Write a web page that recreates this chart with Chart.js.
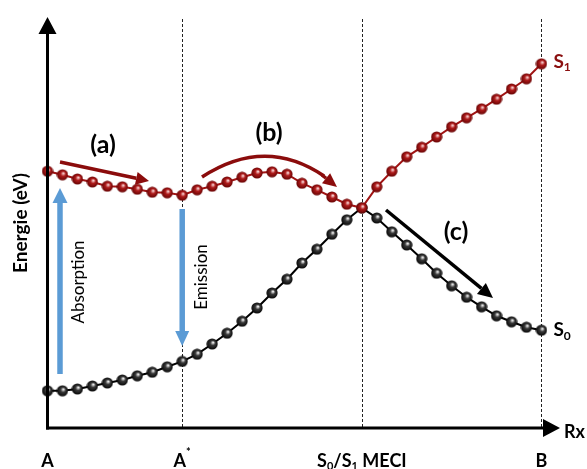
<!DOCTYPE html>
<html>
<head>
<meta charset="utf-8">
<script src="https://cdn.jsdelivr.net/npm/chart.js@4.4.1/dist/chart.umd.min.js"></script>
<style>
  body { margin: 0; background: #fff; }
  canvas { display: block; }
</style>
</head>
<body>
<canvas id="pes" width="587" height="469"></canvas>
<script>
// reaction coordinate steps, A -> B
var steps = [];
for (var i = 0; i <= 33; i++) steps.push(i);

// excited state S1 (eV, arbitrary offset)
var s1Energy = [4.28, 4.22, 4.15, 4.10, 4.03, 4.02, 3.98, 3.93, 3.92, 3.88,
    3.97, 4.03, 4.10, 4.18, 4.25, 4.27, 4.23, 4.08, 3.97, 3.85,
    3.73, 3.67, 4.02, 4.28, 4.52, 4.68, 4.85, 5.02, 5.17, 5.32,
    5.48, 5.65, 5.82, 6.07];

// ground state S0
var s0Energy = [0.62, 0.62, 0.65, 0.70, 0.75, 0.80, 0.87, 0.93, 1.02, 1.11,
    1.23, 1.40, 1.58, 1.78, 2.00, 2.25, 2.48, 2.75, 2.98, 3.23,
    3.47, 3.67, 3.50, 3.27, 3.05, 2.82, 2.58, 2.37, 2.18, 2.02,
    1.87, 1.77, 1.68, 1.63];

// points of interest on the coordinate
var markPos = [0, 9, 21, 33];
var markLabels = ['A', 'A*', 'S0/S1 MECI', 'B'];

var FONT = 'Lato, "Open Sans", sans-serif';

function ball(light, mid, dark) {
    var c = document.createElement('canvas');
    c.width = 12; c.height = 12;
    var g = c.getContext('2d');
    var grad = g.createRadialGradient(7, 4.5, 0.5, 6, 6, 6);
    grad.addColorStop(0, light);
    grad.addColorStop(0.35, mid);
    grad.addColorStop(1, dark);
    g.fillStyle = grad;
    g.beginPath();
    g.arc(6, 6, 5.6, 0, Math.PI * 2);
    g.fill();
    return c;
}
var redBall = ball('#f4c8c8', '#b01c1c', '#5e0000');
var blackBall = ball('#e6e6e6', '#3a3a3a', '#000000');

function pts(arr) {
    return arr.map(function (v, i) { return { x: steps[i], y: v }; });
}

function arrow(ctx, x1, y1, x2, y2, color, lw, hl, hw) {
    var a = Math.atan2(y2 - y1, x2 - x1);
    var bx = x2 - hl * Math.cos(a), by = y2 - hl * Math.sin(a);
    ctx.save();
    ctx.strokeStyle = color; ctx.fillStyle = color; ctx.lineWidth = lw;
    ctx.beginPath(); ctx.moveTo(x1, y1); ctx.lineTo(bx, by); ctx.stroke();
    ctx.beginPath();
    ctx.moveTo(x2, y2);
    ctx.lineTo(bx + hw / 2 * Math.sin(a), by - hw / 2 * Math.cos(a));
    ctx.lineTo(bx - hw / 2 * Math.sin(a), by + hw / 2 * Math.cos(a));
    ctx.closePath(); ctx.fill();
    ctx.restore();
}

// draws text with sub / sup pieces: [[text, 'n'|'sub'|'sup'], ...]
function richText(ctx, parts, x, y, size, align) {
    var small = Math.round(size * 0.62);
    var w = 0;
    parts.forEach(function (p) {
        ctx.font = 'bold ' + (p[1] === 'n' ? size : small) + 'px ' + FONT;
        w += ctx.measureText(p[0]).width;
    });
    var cx = align === 'center' ? x - w / 2 : x;
    parts.forEach(function (p) {
        ctx.font = 'bold ' + (p[1] === 'n' ? size : small) + 'px ' + FONT;
        var dy = p[1] === 'sub' ? size * 0.3 : (p[1] === 'sup' ? -size * 0.5 : 0);
        ctx.fillText(p[0], cx, y + dy);
        cx += ctx.measureText(p[0]).width + (p[1] === 'sup' ? 0 : 0);
    });
}

var decor = {
    id: 'decor',
    beforeDatasetsDraw: function (chart) {
        var ctx = chart.ctx, xs = chart.scales.x, ys = chart.scales.y;
        var top = chart.chartArea.top + 2, bot = ys.getPixelForValue(0);
        ctx.save();
        ctx.strokeStyle = '#222'; ctx.lineWidth = 1; ctx.setLineDash([3, 2]);
        markPos.slice(1).forEach(function (p) {
            var x = Math.round(xs.getPixelForValue(p)) + 0.5;
            ctx.beginPath(); ctx.moveTo(x, top); ctx.lineTo(x, bot); ctx.stroke();
        });
        ctx.restore();
    },
    afterDatasetsDraw: function (chart) {
        var ctx = chart.ctx, xs = chart.scales.x, ys = chart.scales.y;
        var ca = chart.chartArea;
        var x0 = xs.getPixelForValue(0), y0 = ys.getPixelForValue(0);
        var X = function (v) { return xs.getPixelForValue(v); };
        var Y = function (v) { return ys.getPixelForValue(v); };

        // axes with arrow heads
        arrow(ctx, x0, y0 + 1.5, x0, ca.top, '#000', 3, 17, 18);
        arrow(ctx, x0 - 1.5, y0, ca.right, y0, '#000', 3, 17, 18);

        ctx.save();
        ctx.fillStyle = '#000';
        ctx.textBaseline = 'middle';
        // axis titles
        ctx.font = 'bold 18px ' + FONT;
        ctx.fillText('Rx', ca.right + 4, y0 + 4);
        ctx.save();
        ctx.translate(21, 223); ctx.rotate(-Math.PI / 2);
        ctx.textAlign = 'center';
        ctx.font = 'bold 19px ' + FONT;
        ctx.fillText('Energie (eV)', 0, 0);
        ctx.restore();

        // coordinate labels
        var ly = y0 + 33;
        richText(ctx, [['A', 'n']], X(markPos[0]), ly, 18, 'center');
        richText(ctx, [['A', 'n'], ['*', 'sup']], X(markPos[1]), ly, 18, 'center');
        richText(ctx, [['S', 'n'], ['0', 'sub'], ['/S', 'n'], ['1', 'sub'], [' MECI', 'n']], X(markPos[2]), ly, 18, 'center');
        richText(ctx, [['B', 'n']], X(markPos[3]), ly, 18, 'center');

        // state labels
        ctx.fillStyle = '#8b1010';
        richText(ctx, [['S', 'n'], ['1', 'sub']], X(33) + 12, Y(s1Energy[33]) - 2, 19, 'left');
        ctx.fillStyle = '#000';
        richText(ctx, [['S', 'n'], ['0', 'sub']], X(33) + 12, Y(s0Energy[33]), 19, 'left');

        // absorption / emission
        var blue = '#5b9bd5';
        arrow(ctx, 60, 374, 60, 188, blue, 5.5, 15, 15);
        arrow(ctx, X(9), 209, X(9), 346, blue, 5.5, 15, 14);
        ctx.font = '17px ' + FONT;
        ctx.textAlign = 'center';
        ctx.save(); ctx.translate(79, 282); ctx.rotate(-Math.PI / 2);
        ctx.fillText('Absorption', 0, 0); ctx.restore();
        ctx.save(); ctx.translate(202, 277); ctx.rotate(-Math.PI / 2);
        ctx.fillText('Emission', 0, 0); ctx.restore();

        // pathway arrows
        var red = '#8b0c0c';
        arrow(ctx, 60, 162, 149, 181, red, 3.5, 13, 13);
        ctx.save();
        ctx.strokeStyle = red; ctx.lineWidth = 3.5;
        ctx.beginPath(); ctx.moveTo(202, 177);
        ctx.quadraticCurveTo(265, 136, 324, 176); ctx.stroke();
        ctx.restore();
        arrow(ctx, 322, 175, 337, 187, red, 3.5, 14, 13);
        arrow(ctx, 386, 210, 493, 298, '#000', 3.5, 15, 14);

        ctx.font = 'bold 25px ' + FONT;
        ctx.fillText('(a)', 103, 145);
        ctx.fillText('(b)', 269, 133);
        ctx.fillText('(c)', 456, 232);
        ctx.restore();
    }
};

new Chart(document.getElementById('pes'), {
    type: 'line',
    data: {
        datasets: [{
            label: 'S1',
            data: pts(s1Energy),
            borderColor: '#a01414',
            borderWidth: 2,
            pointStyle: redBall,
            pointRadius: 6,
            clip: false
        }, {
            label: 'S0',
            data: pts(s0Energy),
            borderColor: '#000',
            borderWidth: 2,
            pointStyle: blackBall,
            pointRadius: 6,
            clip: false
        }]
    },
    options: {
        responsive: false,
        animation: false,
        layout: { padding: { left: 47.5, right: 27, top: 17, bottom: 41 } },
        plugins: { legend: { display: false }, tooltip: { enabled: false } },
        scales: {
            x: { type: 'linear', min: 0, max: 34.24, display: false },
            y: { min: 0, max: 6.85, display: false }
        }
    },
    plugins: [decor]
});
</script>
</body>
</html>
